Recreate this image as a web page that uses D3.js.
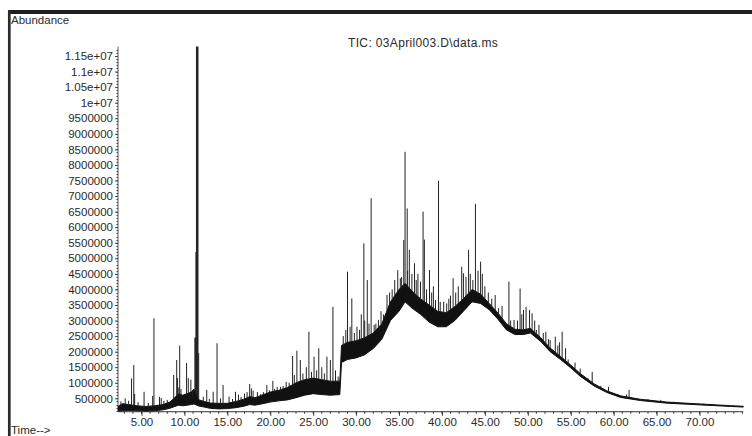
<!DOCTYPE html>
<html lang="en">
<head>
<meta charset="utf-8"/>
<title>TIC: 03April003.D\data.ms</title>
<script src="https://d3js.org/d3.v7.min.js"></script>
<style>
  body { margin: 0; background: #fff; }
  svg text { font-family: "Liberation Sans", Arial, sans-serif; font-size: 11px; fill: #2a2a2a; }
</style>
</head>
<body>
<svg id="chart" width="752" height="436"></svg>
<script>
// noisy baseline of the trace: [time (min), lower edge, upper edge] in abundance counts
const band = [
  [2.3, 90e3, 250e3], [2.8, 100e3, 330e3], [3.5, 110e3, 300e3], [4.5, 100e3, 260e3],
  [5.5, 90e3, 240e3], [6.5, 100e3, 260e3], [7.5, 130e3, 300e3], [8.3, 180e3, 380e3],
  [8.8, 230e3, 500e3], [9.3, 280e3, 650e3], [9.8, 260e3, 600e3], [10.3, 280e3, 650e3],
  [10.8, 300e3, 700e3], [11.1, 320e3, 800e3], [11.7, 250e3, 450e3], [12.3, 220e3, 400e3],
  [13.0, 180e3, 350e3], [14.0, 160e3, 340e3], [15.0, 170e3, 340e3], [16.0, 200e3, 400e3],
  [17.0, 250e3, 480e3], [17.6, 300e3, 560e3], [18.2, 280e3, 520e3], [19.0, 320e3, 600e3],
  [20.0, 380e3, 700e3], [21.0, 420e3, 760e3], [22.0, 450e3, 850e3], [23.0, 520e3, 1.0e6],
  [24.0, 600e3, 1.1e6], [25.0, 650e3, 1.15e6], [26.0, 620e3, 1.1e6], [27.0, 600e3, 1.05e6],
  [28.1, 620e3, 1.05e6], [28.3, 1.65e6, 2.2e6], [29.0, 1.75e6, 2.3e6], [30.0, 1.8e6, 2.35e6],
  [31.0, 1.9e6, 2.45e6], [32.0, 2.1e6, 2.6e6], [33.0, 2.4e6, 2.9e6], [34.0, 3.0e6, 3.6e6],
  [35.0, 3.3e6, 4.0e6], [35.7, 3.6e6, 4.2e6], [36.5, 3.4e6, 3.95e6], [37.5, 3.2e6, 3.7e6],
  [38.5, 2.95e6, 3.5e6], [39.5, 2.8e6, 3.3e6], [40.5, 2.8e6, 3.25e6], [41.5, 3.0e6, 3.45e6],
  [42.5, 3.3e6, 3.7e6], [43.5, 3.6e6, 4.0e6], [44.5, 3.55e6, 3.85e6], [45.5, 3.35e6, 3.55e6],
  [46.5, 3.05e6, 3.25e6], [47.5, 2.7e6, 2.9e6], [48.5, 2.55e6, 2.72e6], [49.5, 2.55e6, 2.7e6],
  [50.3, 2.6e6, 2.75e6], [51.5, 2.33e6, 2.45e6], [52.6, 2.0e6, 2.12e6], [53.8, 1.75e6, 1.85e6],
  [55.0, 1.48e6, 1.57e6], [56.1, 1.21e6, 1.3e6], [57.7, 0.9e6, 0.97e6], [59.2, 690e3, 740e3],
  [60.8, 530e3, 580e3], [63.1, 430e3, 470e3], [66.2, 345e3, 380e3], [69.7, 295e3, 325e3],
  [73.6, 240e3, 265e3], [75.1, 220e3, 245e3]
];

// individual peaks: [time (min), apex abundance]
const peaks = [
  [2.6, 400e3], [3.1, 500e3], [3.5, 420e3], [3.84, 1.14e6], [4.1, 1.57e6], [4.2, 640e3],
  [4.6, 380e3], [5.3, 710e3], [5.8, 350e3], [6.3, 580e3], [6.45, 3.07e6], [7.1, 550e3],
  [7.3, 510e3], [7.6, 420e3], [8.0, 450e3], [8.75, 1.25e6], [9.1, 1.73e6], [9.2, 1.15e6],
  [9.35, 850e3], [9.45, 2.19e6], [9.6, 800e3], [10.25, 1.64e6], [10.45, 1.15e6],
  [10.75, 1.1e6], [10.95, 560e3],
  [11.22, 2.45e6], [11.28, 2.45e6], [11.34, 5.2e6], [11.40, 11.8e6], [11.46, 11.8e6],
  [11.52, 11.8e6], [11.58, 11.8e6], [11.66, 1.95e6],
  [12.2, 550e3], [12.6, 770e3], [12.9, 480e3], [13.35, 710e3], [13.8, 2.27e6], [14.2, 500e3],
  [14.5, 930e3], [15.2, 560e3], [15.6, 480e3], [15.95, 710e3], [16.3, 620e3], [16.6, 550e3],
  [17.0, 650e3], [17.3, 700e3], [17.6, 960e3], [17.8, 820e3], [18.0, 750e3], [18.5, 700e3],
  [18.9, 640e3], [19.2, 700e3], [19.6, 930e3], [19.9, 760e3], [20.3, 1.06e6], [20.5, 800e3],
  [20.8, 870e3], [21.2, 870e3], [21.5, 900e3], [21.85, 1.03e6], [22.2, 1.0e6], [22.6, 1.86e6],
  [22.8, 1.25e6], [23.1, 2.03e6], [23.5, 1.73e6], [23.8, 1.3e6], [24.2, 1.5e6], [24.5, 2.64e6],
  [24.8, 1.35e6], [25.1, 1.84e6], [25.4, 1.4e6], [25.65, 2.11e6], [26.0, 1.5e6], [26.3, 1.3e6],
  [26.6, 1.84e6], [27.0, 1.73e6], [27.3, 3.44e6], [27.6, 1.4e6], [27.9, 1.2e6],
  [28.5, 2.5e6], [28.8, 2.7e6], [29.0, 4.57e6], [29.3, 2.8e6], [29.5, 3.71e6], [29.8, 2.6e6],
  [30.1, 2.8e6], [30.4, 2.7e6], [30.6, 3.2e6], [30.9, 5.48e6], [31.0, 3.0e6], [31.3, 4.3e6],
  [31.5, 2.9e6], [31.75, 6.93e6], [32.1, 2.86e6], [32.3, 2.9e6], [32.6, 3.02e6], [32.9, 3.3e6],
  [33.2, 3.2e6], [33.6, 3.82e6], [33.9, 3.9e6], [34.2, 4.0e6], [34.5, 4.3e6], [34.85, 4.62e6],
  [35.15, 4.36e6], [35.3, 4.4e6], [35.55, 5.59e6], [35.7, 8.42e6], [35.95, 6.6e6], [36.0, 4.6e6],
  [36.2, 5.27e6], [36.5, 4.5e6], [36.8, 4.84e6], [37.0, 4.3e6], [37.2, 4.5e6], [37.5, 4.25e6],
  [37.8, 6.5e6], [37.95, 5.6e6], [38.2, 4.0e6], [38.55, 4.62e6], [38.8, 3.9e6], [39.0, 4.1e6],
  [39.25, 3.66e6], [39.6, 7.49e6], [39.8, 3.6e6], [40.2, 3.6e6], [40.55, 3.55e6], [40.8, 3.7e6],
  [41.0, 3.8e6], [41.3, 4.36e6], [41.6, 3.9e6], [41.9, 4.1e6], [42.3, 4.73e6], [42.5, 4.52e6],
  [42.8, 4.4e6], [43.1, 5.27e6], [43.3, 4.5e6], [43.6, 4.3e6], [43.9, 6.75e6], [44.2, 4.6e6],
  [44.5, 4.89e6], [44.7, 4.5e6], [45.0, 4.1e6], [45.4, 3.9e6], [45.8, 3.7e6], [46.2, 3.82e6],
  [46.6, 3.4e6], [47.0, 3.47e6], [47.8, 4.25e6], [48.0, 3.0e6], [48.4, 3.02e6], [48.8, 3.0e6],
  [49.1, 4.03e6], [49.3, 3.2e6], [49.5, 3.34e6], [49.8, 3.44e6], [50.2, 3.34e6], [50.5, 3.23e6],
  [50.8, 3.0e6], [51.0, 2.7e6], [51.3, 2.86e6], [51.8, 2.6e6], [52.1, 2.64e6], [52.4, 2.4e6],
  [52.6, 2.37e6], [53.2, 2.48e6], [53.5, 2.2e6], [53.7, 2.3e6], [54.0, 2.64e6], [54.4, 2.11e6],
  [54.7, 1.75e6], [55.5, 1.65e6], [56.1, 1.46e6], [57.0, 1.15e6], [57.5, 1.35e6], [58.5, 900e3],
  [59.4, 870e3], [60.5, 640e3], [61.5, 620e3], [61.8, 770e3], [64.0, 480e3], [65.5, 450e3],
  [67.0, 390e3], [70.5, 330e3]
];

const xTickValues = [5, 10, 15, 20, 25, 30, 35, 40, 45, 50, 55, 60, 65, 70];
const xTickLabels = ["5.00", "10.00", "15.00", "20.00", "25.00", "30.00", "35.00",
                     "40.00", "45.00", "50.00", "55.00", "60.00", "65.00", "70.00"];
const yTickValues = [500000, 1000000, 1500000, 2000000, 2500000, 3000000, 3500000, 4000000,
                     4500000, 5000000, 5500000, 6000000, 6500000, 7000000, 7500000, 8000000,
                     8500000, 9000000, 9500000, 10000000, 10500000, 11000000, 11500000];
const yTickLabels = ["500000", "1000000", "1500000", "2000000", "2500000", "3000000",
                     "3500000", "4000000", "4500000", "5000000", "5500000", "6000000",
                     "6500000", "7000000", "7500000", "8000000", "8500000", "9000000",
                     "9500000", "1e+07", "1.05e+07", "1.1e+07", "1.15e+07"];

const tStart = 2.3, tEnd = 75.1;      // time axis extent
const vBottom = 70000, vTop = 11800000; // abundance axis extent

const svg = d3.select("#chart");
const x = d3.scaleLinear().domain([5, 70]).range([141.5, 699.5]);
const y = d3.scaleLinear().domain([0, 11500000]).range([413.9, 56]);

// frame
svg.append("line").attr("x1", 8).attr("x2", 752).attr("y1", 12).attr("y2", 12)
  .attr("stroke", "#1e1e1e").attr("stroke-width", 4);
svg.append("line").attr("x1", 9.3).attr("x2", 9.3).attr("y1", 10).attr("y2", 436)
  .attr("stroke", "#2a2a2a").attr("stroke-width", 2.7);

svg.append("text").attr("x", 11).attr("y", 24).style("font-size", "11.5px").text("Abundance");
svg.append("text").attr("x", 11).attr("y", 434).style("font-size", "11.5px").text("Time-->");
svg.append("text").attr("x", 348).attr("y", 47).style("font-size", "12px")
  .style("letter-spacing", "0.35px").text("TIC: 03April003.D\\data.ms");

// y axis
const yAxis = svg.append("g").attr("transform", "translate(118,0)")
  .call(d3.axisLeft(y).tickValues(yTickValues).tickFormat((d, i) => yTickLabels[i])
    .tickSize(3).tickPadding(2));
yAxis.select(".domain").remove();
yAxis.selectAll("line").attr("stroke", "#444");
yAxis.selectAll("text").attr("fill", "#2a2a2a").style("font-size", "11.5px");
yAxis.append("line").attr("y1", y(vBottom)).attr("y2", y(vTop)).attr("stroke", "#555");
yAxis.selectAll("line.minor").data(d3.range(100000, vTop, 100000)).join("line")
  .attr("class", "minor").attr("x1", -1.5).attr("x2", 0)
  .attr("y1", d => Math.round(y(d)) + 0.5).attr("y2", d => Math.round(y(d)) + 0.5)
  .attr("stroke", "#444");

// x axis
const xAxis = svg.append("g").attr("transform", `translate(0,${y(vBottom)})`)
  .call(d3.axisBottom(x).tickValues(xTickValues).tickFormat((d, i) => xTickLabels[i])
    .tickSize(4).tickPadding(2));
xAxis.select(".domain").remove();
xAxis.selectAll("line").attr("stroke", "#333");
xAxis.selectAll("text").attr("fill", "#2a2a2a").style("font-size", "11.5px");
xAxis.append("line").attr("x1", x(tStart)).attr("x2", x(tEnd)).attr("stroke", "#333");
xAxis.selectAll("line.minor").data(d3.range(3, 76, 1)).join("line")
  .attr("class", "minor").attr("x1", d => x(d)).attr("x2", d => x(d))
  .attr("y1", 0).attr("y2", 2).attr("stroke", "#333");

// trace: noisy band
const area = d3.area()
  .x(d => x(d[0]))
  .y0(d => y(d[1]))
  .y1(d => y(d[2]));
svg.append("path").datum(band).attr("d", area)
  .attr("fill", "#111").attr("stroke", "#111").attr("stroke-width", 1)
  .attr("stroke-linejoin", "round");

// peaks rise from the band's upper edge
const bis = d3.bisector(d => d[0]).left;
function bandTop(t) {
  const i = Math.max(1, Math.min(band.length - 1, bis(band, t)));
  const a = band[i - 1], b = band[i];
  const f = (t - a[0]) / (b[0] - a[0]);
  return a[2] + f * (b[2] - a[2]);
}
svg.append("g").selectAll("line").data(peaks).join("line")
  .attr("x1", d => x(d[0])).attr("x2", d => x(d[0]))
  .attr("y1", d => y(bandTop(d[0]))).attr("y2", d => y(Math.min(d[1], vTop)))
  .attr("stroke", "#222").attr("stroke-width", 1);
</script>
</body>
</html>
